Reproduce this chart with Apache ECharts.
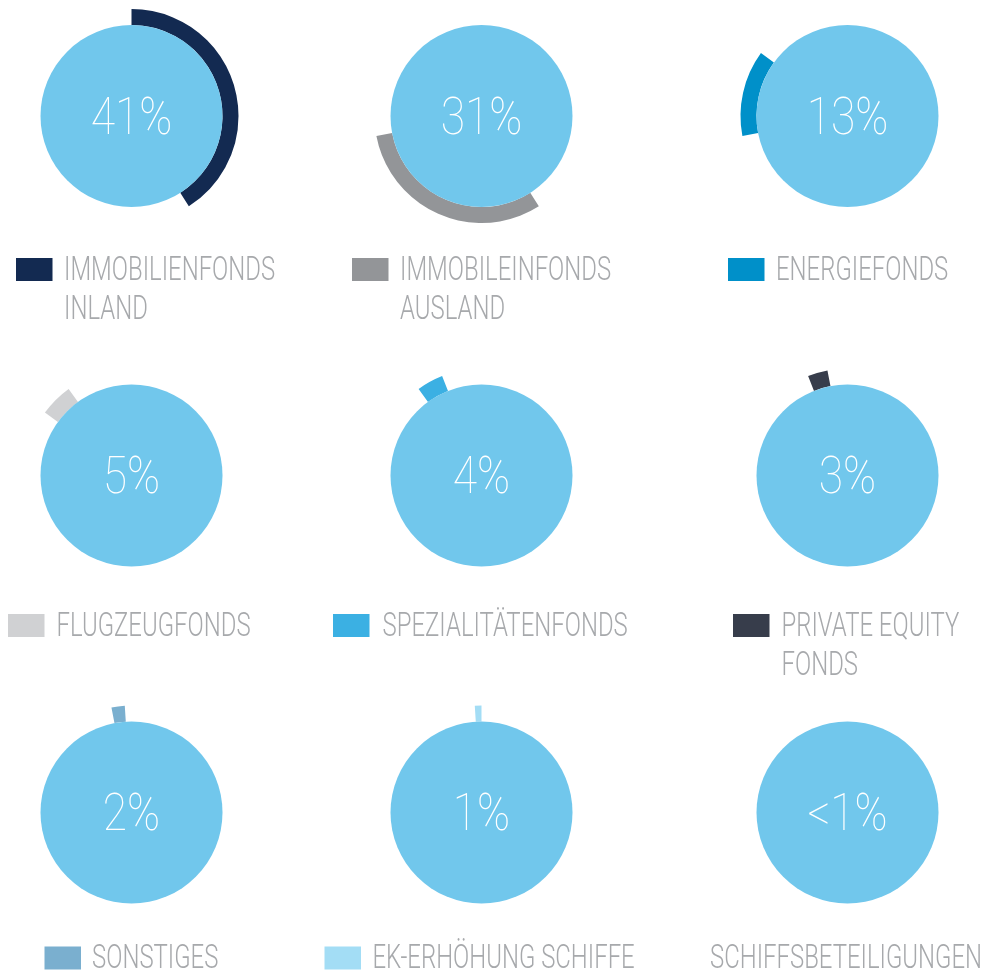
<!DOCTYPE html>
<html><head><meta charset="utf-8">
<script src="https://cdn.jsdelivr.net/npm/echarts@6/dist/echarts.min.js"></script>
<style>html,body{margin:0;padding:0;background:#fff}#c{width:984px;height:971px}</style>
</head><body><div id="c"></div>
<script>
// ---- data ----
var categories = ['IMMOBILIENFONDS\nINLAND', 'IMMOBILEINFONDS\nAUSLAND', 'ENERGIEFONDS',
  'FLUGZEUGFONDS', 'SPEZIALITÄTENFONDS', 'PRIVATE EQUITY\nFONDS',
  'SONSTIGES', 'EK-ERHÖHUNG SCHIFFE', 'SCHIFFSBETEILIGUNGEN'];
var values = [41, 31, 13, 5, 4, 3, 2, 1, 0];
var valueLabels = ['41%', '31%', '13%', '5%', '4%', '3%', '2%', '1%', '<1%'];
var colors = ['#132A51', '#939598', '#0090C9', '#D0D1D3', '#3BB0E3', '#373D4B', '#7AAFCF', '#A3DDF5', null];

// ---- layout ----
var colX = [131.5, 481.5, 847.5];
var rowY = [116, 475.5, 812.5];
var legendRowY = [269.5, 625.5, 958];
var legendSquareX = [16, 352, 728, 8, 333, 733, 44.5, 324.5, null];
var legendTextX = [64, 400, 776, 56.5, 382.5, 781.5, 92, 372.5, 710];
var circleR = 91, ringR = [91, 107];
var circleColor = '#71C7EC';
var textGray = '#A7A9AC';

var series = [];
var graphic = [];
var cum = 0;
for (var i = 0; i < values.length; i++) {
  var cx = colX[i % 3], cy = rowY[Math.floor(i / 3)];
  var before = cum;
  cum += values[i];
  if (values[i] > 0) {
    series.push({
      type: 'pie', silent: true, z: 1, center: [cx, cy], radius: ringR,
      startAngle: 90, clockwise: true, animation: false,
      label: {show: false}, labelLine: {show: false},
      emphasis: {disabled: true},
      data: [
        {value: before, itemStyle: {color: 'rgba(0,0,0,0)'}},
        {value: values[i], itemStyle: {color: colors[i]}},
        {value: 100 - before - values[i], itemStyle: {color: 'rgba(0,0,0,0)'}}
      ]
    });
  }
  series.push({
    type: 'pie', silent: true, z: 2, center: [cx, cy], radius: [0, circleR],
    animation: false, label: {show: false}, labelLine: {show: false},
    emphasis: {disabled: true},
    data: [{value: 1, itemStyle: {color: circleColor}}]
  });
  graphic.push({
    type: 'text', x: cx, y: cy + 5, scaleX: 0.87, z: 10, silent: true,
    style: {text: valueLabels[i], fontFamily: 'Roboto', fontWeight: 100, fontSize: 51,
      fill: '#ffffff', align: 'center', verticalAlign: 'middle'}
  });
  var ly = legendRowY[Math.floor(i / 3)];
  if (colors[i]) {
    graphic.push({type: 'rect', silent: true, shape: {x: legendSquareX[i], y: ly - 11.5, width: 36.5, height: 23},
      style: {fill: colors[i]}});
  }
  graphic.push({
    type: 'text', x: legendTextX[i], y: ly - 19.5 + 2, scaleX: 0.725, silent: true,
    style: {text: categories[i], fontFamily: 'Roboto', fontWeight: 300, fontSize: 33,
      lineHeight: 39, fill: textGray, align: 'left', verticalAlign: 'top'}
  });
}

var chart = echarts.init(document.getElementById('c'), null, {renderer: 'canvas'});
chart.setOption({animation: false, backgroundColor: '#fff', series: series, graphic: graphic});
</script></body></html>
